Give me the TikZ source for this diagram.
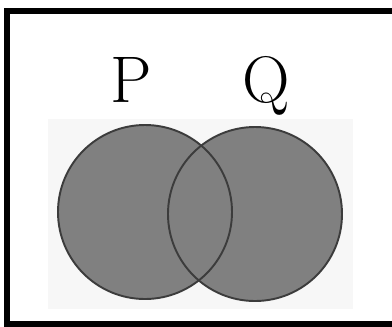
\documentclass[tikz,border=0pt]{standalone}
\usepackage{tikz}

\definecolor{setgray}{HTML}{808080}
\definecolor{setedge}{HTML}{3C3C3C}
\definecolor{panelgray}{HTML}{F7F7F7}

\tikzset{
  setfill/.style={fill=setgray},
  setline/.style={draw=setedge, line width=1.1pt},
  setlabel/.style={inner sep=0pt, anchor=base, font=\fontsize{37.5}{40}\selectfont}
}

\begin{document}
\begin{tikzpicture}[scale=0.2]
        \useasboundingbox (0,0) rectangle (39.2,-32.6);
        \clip (0,0) rectangle (39.2,-32.6);
        % universe
        \draw [black, line width=3.1pt] (0.7,-1.1) rectangle (40.6,-32.4);
        \fill [panelgray] (4.8,-11.9) rectangle (35.3,-30.9);
        % the two sets
        \coordinate (pc) at (14.5,-21.2);
        \coordinate (qc) at (25.5,-21.4);
        \fill [setfill] (pc) circle (8.7);
        \fill [setfill] (qc) circle (8.7);
        \draw [setline] (pc) circle (8.7);
        \draw [setline] (qc) circle (8.7);
        \node [setlabel] (labp) at (13.1,-10.25) {P};
        \node [setlabel] (labq) at (26.6,-10.25) {Q};
\end{tikzpicture}
\end{document}
